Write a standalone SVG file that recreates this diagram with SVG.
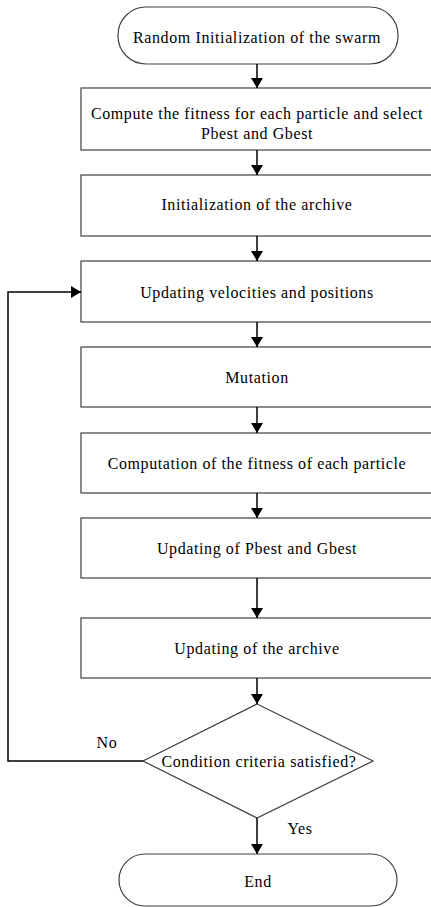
<svg xmlns="http://www.w3.org/2000/svg" width="431" height="907" viewBox="0 0 431 907">
<defs>
<marker id="ah" markerWidth="10" markerHeight="12" refX="10" refY="6" orient="auto" markerUnits="userSpaceOnUse">
<path d="M0,0 L10,6 L0,12 Z" fill="#000"/>
</marker>
<style>
.box{fill:#fff;stroke:#404040;stroke-width:1.2}
.t{font-family:'Liberation Serif','Times New Roman',serif;font-size:16px;letter-spacing:0.6px;fill:#000;text-anchor:middle;dominant-baseline:central}
.c{fill:none;stroke:#000;stroke-width:1.5}
</style>
</defs>
<rect width="431" height="907" fill="#fff"/>
<g id="start"><rect class="box" x="118" y="7" width="280" height="57" rx="28"/><text class="t" x="257" y="37">Random Initialization of the swarm</text></g>
<g id="fitness"><rect class="box" x="81" y="88" width="352" height="62"/><text class="t" x="257" y="113">Compute the fitness for each particle and select</text><text class="t" x="257" y="133">Pbest and Gbest</text></g>
<g id="archive-init"><rect class="box" x="81" y="175" width="352" height="61"/><text class="t" x="257" y="204">Initialization of the archive</text></g>
<g id="update-vel"><rect class="box" x="81" y="261" width="352" height="61"/><text class="t" x="257" y="292">Updating velocities and positions</text></g>
<g id="mutation"><rect class="box" x="81" y="347" width="352" height="60"/><text class="t" x="257" y="377">Mutation</text></g>
<g id="compute"><rect class="box" x="81" y="433" width="352" height="60"/><text class="t" x="257" y="463">Computation of the fitness of each particle</text></g>
<g id="update-best"><rect class="box" x="81" y="518" width="352" height="60"/><text class="t" x="257" y="548">Updating of Pbest and Gbest</text></g>
<g id="update-archive"><rect class="box" x="81" y="618" width="352" height="60"/><text class="t" x="257" y="648">Updating of the archive</text></g>
<g id="condition"><polygon class="box" points="257,704 373,761 257,818 143,761"/><text class="t" x="259" y="761">Condition criteria satisfied?</text></g>
<g id="end"><rect class="box" x="119" y="854" width="278" height="52" rx="26"/><text class="t" x="258" y="881">End</text></g>
<g id="connectors">
<line class="c" x1="257" y1="64" x2="257" y2="88" marker-end="url(#ah)"/>
<line class="c" x1="257" y1="150" x2="257" y2="175" marker-end="url(#ah)"/>
<line class="c" x1="257" y1="236" x2="257" y2="261" marker-end="url(#ah)"/>
<line class="c" x1="257" y1="322" x2="257" y2="347" marker-end="url(#ah)"/>
<line class="c" x1="257" y1="407" x2="257" y2="433" marker-end="url(#ah)"/>
<line class="c" x1="257" y1="493" x2="257" y2="518" marker-end="url(#ah)"/>
<line class="c" x1="257" y1="578" x2="257" y2="618" marker-end="url(#ah)"/>
<line class="c" x1="257" y1="678" x2="257" y2="704" marker-end="url(#ah)"/>
<line class="c" x1="257" y1="818" x2="257" y2="854" marker-end="url(#ah)"/>
<polyline class="c" points="143,761 8,761 8,292 81,292" marker-end="url(#ah)"/>
<text class="t" x="107" y="742">No</text>
<text class="t" x="300" y="828">Yes</text>
</g>
</svg>
